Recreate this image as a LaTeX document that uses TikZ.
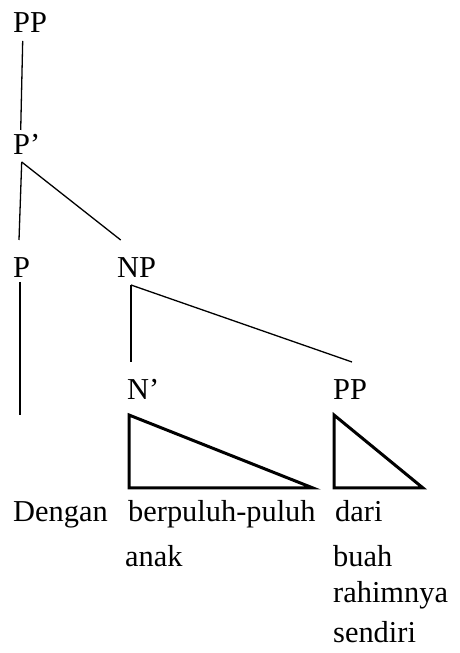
\documentclass[tikz,border=0pt]{standalone}
\usepackage{fontspec}
\setmainfont{Liberation Serif}
\begin{document}
\begin{tikzpicture}[x=1pt,y=1pt,
  lbl/.style={anchor=base west,inner sep=0pt,font=\fontsize{30.4}{32}\selectfont},
  edge/.style={line width=1.3pt},
  tri/.style={line width=3pt,line join=miter}]
\useasboundingbox (0,0) rectangle (459,653);
% labels
\node[lbl] (pp) at (13,620) {PP};
\node[lbl] (pbar) at (13,498) {P’};
\node[lbl] (p) at (13,375) {P};
\node[lbl] (np) at (117,375) {NP};
\node[lbl] (nbar) at (127,253) {N’};
\node[lbl] (pp2) at (333,253) {PP};
\node[lbl] (w1) at (13,131) {Dengan};
\node[lbl] (w2) at (128,131) {berpuluh-puluh};
\node[lbl] (w3) at (335,131) {dari};
\node[lbl] (w4) at (125,86) {anak};
\node[lbl] (w5) at (333,86) {buah};
\node[lbl] (w6) at (333,50) {rahimnya};
\node[lbl] (w7) at (333,10) {sendiri};
% connector end points
\coordinate (ppb) at (22.7,612);
\coordinate (pbart) at (20.7,523);
\coordinate (pbarb) at (21.7,491);
\coordinate (pt) at (19,413);
\coordinate (npt) at (120.7,413);
\coordinate (pb) at (20,371);
\coordinate (pend) at (20,238);
\coordinate (npb) at (131,368);
\coordinate (nbart) at (131,291);
\coordinate (pp2t) at (352,291);
\draw[edge] (ppb) -- (pbart);
\draw[edge] (pbarb) -- (pt);
\draw[edge] (pbarb) -- (npt);
\draw[edge] (pb) -- (pend);
\draw[edge] (npb) -- (nbart);
\draw[edge] (npb) -- (pp2t);
% triangles
\draw[tri] (129,238) -- (129,165) -- (313,165) -- cycle;
\draw[tri] (334,238) -- (334,165) -- (423,165) -- cycle;
\end{tikzpicture}
\end{document}
